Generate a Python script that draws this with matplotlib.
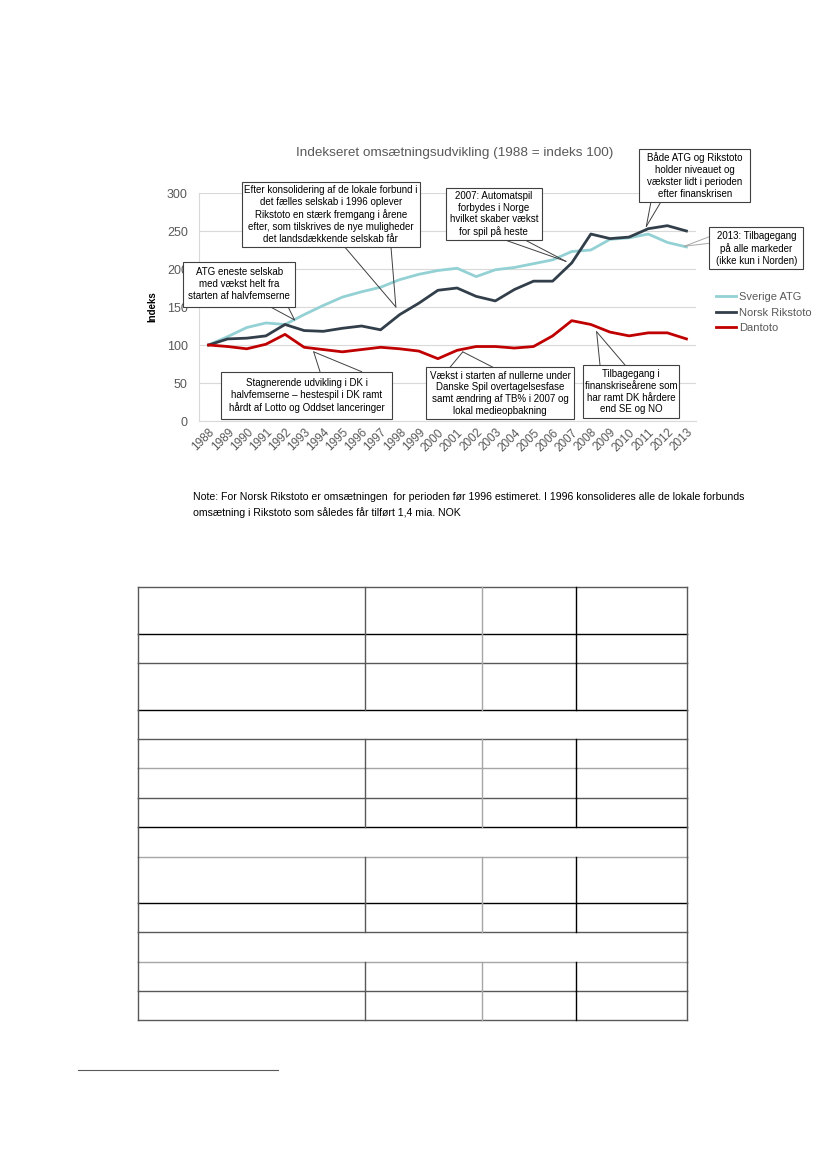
import numpy as np
import matplotlib
matplotlib.use("Agg")
import matplotlib.pyplot as plt
from matplotlib.patches import Rectangle
from matplotlib.lines import Line2D

plt.rcParams['font.family'] = ['Liberation Sans', 'DejaVu Sans']

# Data (index 1988 = 100)
years = list(range(1988, 2014))
sverige_atg = [100, 111, 123, 129, 127, 140, 152, 163, 170, 176, 186, 193, 198, 201,
               190, 199, 202, 207, 212, 223, 225, 239, 241, 246, 235, 229]
norsk_rikstoto = [100, 108, 109, 112, 127, 119, 118, 122, 125, 120, 140, 155, 172, 175,
                  164, 158, 173, 184, 184, 208, 246, 240, 242, 253, 257, 250]
dantoto = [100, 98, 95, 101, 114, 97, 94, 91, 94, 97, 95, 92, 82, 93,
           98, 98, 96, 98, 112, 132, 127, 117, 112, 116, 116, 108]

series_names = ['Sverige ATG', 'Norsk Rikstoto', 'Dantoto']
series_colors = ['#93d1d4', '#323f4b', '#c00000']

W, H = 827, 1169


def px(x, y):
    # page pixel (from top-left) -> figure fraction
    return x / W, 1 - y / H


fig = plt.figure(figsize=(W / 100, H / 100), dpi=100)
l, b = px(199, 421)
r, t = px(696, 193)
ax = fig.add_axes([l, b, r - l, t - b])

for vals, name, col in zip([sverige_atg, norsk_rikstoto, dantoto], series_names, series_colors):
    ax.plot(years, vals, color=col, lw=2.0, label=name, solid_joinstyle='round')

ax.set_xlim(1987.5, 2013.5)
ax.set_ylim(0, 300)
ax.set_yticks(range(0, 301, 50))
ax.set_xticks(years)
ax.set_xticklabels([str(y) for y in years], rotation=45, ha='right', rotation_mode='anchor')
ax.tick_params(axis='both', length=0, labelcolor='#595959')
ax.tick_params(axis='y', pad=8, labelsize=9)
ax.tick_params(axis='x', pad=4, labelsize=8.5)
ax.grid(axis='y', color='#d9d9d9', lw=0.8)
ax.set_axisbelow(True)
for s in ['top', 'right']:
    ax.spines[s].set_visible(False)
for s in ['left', 'bottom']:
    ax.spines[s].set_color('#d9d9d9')
    ax.spines[s].set_linewidth(0.8)

fig.text(*px(455, 153), 'Indekseret omsætningsudvikling (1988 = indeks 100)',
         ha='center', va='center', fontsize=9.7, color='#595959')
fig.text(*px(152, 307), 'Indeks', rotation=90, ha='center', va='center',
         fontsize=7, fontweight='bold')

ax.legend(loc='upper left', bbox_to_anchor=px(716, 292), bbox_transform=fig.transFigure,
          frameon=False, fontsize=8, handlelength=1.8, handletextpad=0.25,
          labelspacing=0.5, borderpad=0, borderaxespad=0, labelcolor='#595959')

# Callouts: box (x0, y0, x1, y1 in page px), text, wedge base points (page px), tip (data)
callouts = [
    ((241.7, 181.7, 420, 247.3),
     'Efter konsolidering af de lokale forbund i\ndet fælles selskab i 1996 oplever\n'
     'Rikstoto en stærk fremgang i årene\nefter, som tilskrives de nye muligheder\n'
     'det landsdækkende selskab får',
     [(345, 247.3), (391, 247.3)], (1997.8, 150), '#404040'),
    ((183.3, 261.7, 295, 306.7),
     'ATG eneste selskab\nmed vækst helt fra\nstarten af halvfemserne',
     [(270, 306.7), (288, 306.7)], (1992.5, 133), '#404040'),
    ((446, 188.3, 541.7, 240),
     '2007: Automatspil\nforbydes i Norge\nhvilket skaber vækst\nfor spil på heste',
     [(505, 240), (525, 240)], (2006.7, 210), '#404040'),
    ((639.3, 149.3, 750, 201.7),
     'Både ATG og Rikstoto\nholder niveauet og\nvækster lidt i perioden\nefter finanskrisen',
     [(651, 201.7), (661, 201.7)], (2010.9, 256), '#404040'),
    ((709.3, 227.3, 803.3, 269.3),
     '2013: Tilbagegang\npå alle markeder\n(ikke kun i Norden)',
     [(709.3, 236.7), (709.3, 243.3)], (2012.9, 230), '#a6a6a6'),
    ((220.7, 371.7, 392.3, 419.3),
     'Stagnerende udvikling i DK i\nhalvfemserne – hestespil i DK ramt\nhårdt af Lotto og Oddset lanceringer',
     [(320, 371.7), (361.7, 371.7)], (1993.5, 91), '#404040'),
    ((425.7, 367.3, 574.3, 419.3),
     'Vækst i starten af nullerne under\nDanske Spil overtagelsesfase\nsamt ændring af TB% i 2007 og\nlokal medieopbakning',
     [(450, 367.3), (493, 367.3)], (2001.3, 91), '#404040'),
    ((583.3, 365, 679.3, 418.3),
     'Tilbagegang i\nfinanskriseårene som\nhar ramt DK hårdere\nend SE og NO',
     [(600, 365), (625, 365)], (2008.3, 117.5), '#404040'),
]

for (x0, y0, x1, y1), txt, bases, tip, lcol in callouts:
    for bx, by in bases:
        ax.annotate('', xy=tip, xycoords='data', xytext=px(bx, by), textcoords='figure fraction',
                    arrowprops=dict(arrowstyle='-', color=lcol, lw=0.7, shrinkA=0, shrinkB=0),
                    annotation_clip=False)
    fx0, fy1 = px(x0, y1)
    fx1, fy0 = px(x1, y0)
    fig.add_artist(Rectangle((fx0, fy1), fx1 - fx0, fy0 - fy1, transform=fig.transFigure,
                             facecolor='white', edgecolor='#404040', lw=0.8, zorder=5))
    fig.text(*px((x0 + x1) / 2, (y0 + y1) / 2), txt, ha='center', va='center',
             fontsize=7, linespacing=1.22, zorder=6, color='black')

fig.text(*px(193, 497), 'Note: For Norsk Rikstoto er omsætningen  for perioden før 1996 estimeret. '
         'I 1996 konsolideres alle de lokale forbunds', ha='left', va='center', fontsize=7.6)
fig.text(*px(193, 513), 'omsætning i Rikstoto som således får tilført 1,4 mia. NOK',
         ha='left', va='center', fontsize=7.6)

# Empty table below the chart
col_x = [138, 365, 482, 576, 687]
col_colors = ['#595959', '#595959', '#a6a6a6', '#000000', '#595959']
row_y = [587, 634, 663, 710, 739, 768, 798, 827, 857, 903, 932, 962, 991, 1020]
merged = [3, 7, 10]  # row index (between row_y[i] and row_y[i+1]) spanning full width
row_colors = ['#595959', '#000000', '#595959', '#000000', '#595959', '#a6a6a6', '#595959',
              '#000000', '#a6a6a6', '#000000', '#595959', '#a6a6a6', '#595959', '#595959']

for yy, c in zip(row_y, row_colors):
    xa, ya = px(col_x[0], yy)
    xb, _ = px(col_x[-1], yy)
    fig.add_artist(Line2D([xa, xb], [ya, ya], transform=fig.transFigure, color=c, lw=1.0))

for i in range(len(row_y) - 1):
    for j, (cx, c) in enumerate(zip(col_x, col_colors)):
        if i in merged and 0 < j < len(col_x) - 1:
            continue
        xa, ya = px(cx, row_y[i])
        _, yb = px(cx, row_y[i + 1])
        fig.add_artist(Line2D([xa, xa], [ya, yb], transform=fig.transFigure, color=c, lw=1.0))

# footnote separator
xa, ya = px(78, 1070)
xb, _ = px(278, 1070)
fig.add_artist(Line2D([xa, xb], [ya, ya], transform=fig.transFigure, color='#595959', lw=0.8))

fig.savefig('out.png', dpi=100)
